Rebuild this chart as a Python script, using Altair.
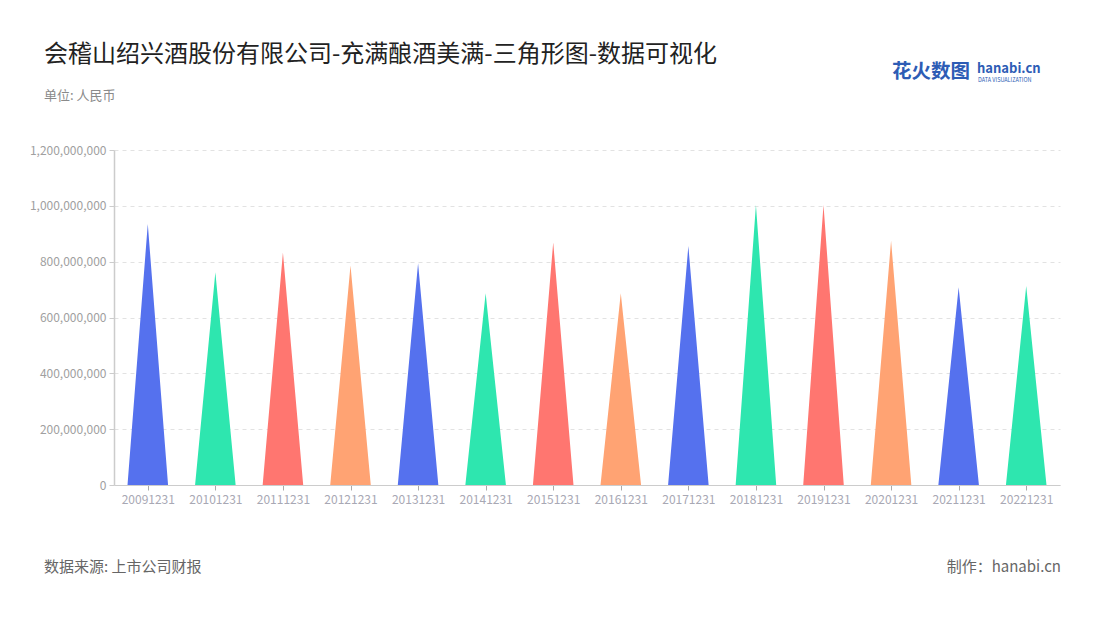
import altair as alt
import pandas as pd

categories = ["20091231", "20101231", "20111231", "20121231", "20131231", "20141231",
              "20151231", "20161231", "20171231", "20181231", "20191231", "20201231",
              "20211231", "20221231"]
values = [935e6, 762e6, 833e6, 786e6, 794e6, 687e6, 869e6, 687e6, 856e6,
          1003e6, 1003e6, 875e6, 708e6, 713e6]
palette = ["#5571EE", "#2EE6AF", "#FF7670", "#FFA373"]
y_ticks = [0, 2e8, 4e8, 6e8, 8e8, 1e9, 1.2e9]

HALF = 0.3  # half base width of each triangle, in category units

rows = []
for i, (c, v) in enumerate(zip(categories, values)):
    for k, (dx, yy) in enumerate([(-HALF, 0.0), (0.0, v), (HALF, 0.0)]):
        rows.append({"cat": c, "pos": i + dx, "val": yy, "grp": i % 4, "ord": k})
df = pd.DataFrame(rows)

label_expr = "[" + ",".join(f"'{c}'" for c in categories) + "][datum.value]"

FONT = "Noto Sans CJK SC"

tri = alt.Chart(df).mark_area(opacity=1, interpolate="linear").encode(
    x=alt.X("pos:Q", scale=alt.Scale(domain=[-0.5, len(categories) - 0.5], nice=False, zero=False),
            axis=alt.Axis(values=list(range(len(categories))), labelExpr=label_expr, title=None,
                          grid=False, domainColor="#cccccc", tickColor="#aaaaaa", tickSize=5,
                          labelColor="#a8a8b4", labelFontSize=12, labelFont=FONT, labelPadding=4)),
    y=alt.Y("val:Q", scale=alt.Scale(domain=[0, 1.2e9], nice=False),
            axis=alt.Axis(values=y_ticks, format=",d", title=None, grid=True, gridDash=[4, 4],
                          gridColor="#e2e2e2", domainColor="#cccccc", domainWidth=1.5,
                          tickColor="#cccccc", tickSize=5, labelColor="#a0a0a0",
                          labelFontSize=12, labelFont=FONT, labelPadding=3)),
    color=alt.Color("grp:N", scale=alt.Scale(domain=[0, 1, 2, 3], range=palette), legend=None),
    detail="cat:N",
    order="ord:Q",
)

one = pd.DataFrame({"a": [0]})

def txt(text, x, y, size, color, align="left", weight="normal", font=FONT):
    return alt.Chart(one).mark_text(text=text, align=align, baseline="middle", fontSize=size,
                                    color=color, fontWeight=weight, font=font).encode(
        x=alt.value(x), y=alt.value(y))

title = txt("会稽山绍兴酒股份有限公司-充满酿酒美满-三角形图-数据可视化", -70, -95, 24, "#222222")
sub = txt("单位: 人民币", -70, -54, 13, "#8a8a8a")
src = txt("数据来源: 上市公司财报", -70, 417, 15, "#666666")
made = txt("制作：hanabi.cn", 947, 417, 15, "#666666", align="right")
logo1 = txt("花火数图", 778, -78, 19.5, "#2d5cb5", weight="bold")
logo2 = txt("hanabi.cn", 863, -81, 13, "#2d5cb5", weight="bold")
logo3 = txt("DATA VISUALIZATION", 864, -70, 5.5, "#2d5cb5")

chart = alt.layer(tri, title, sub, src, made, logo1, logo2, logo3).properties(
    width=946, height=335,
    autosize=alt.AutoSizeParams(type="none"),
    padding={"left": 106, "top": 142, "right": 20, "bottom": 100},
    view=alt.ViewBackground(strokeOpacity=0, strokeWidth=0),
).configure_view(strokeOpacity=0, strokeWidth=0).configure(background="white")

chart.save("out.html", embed_options={"renderer": "svg", "actions": False})
